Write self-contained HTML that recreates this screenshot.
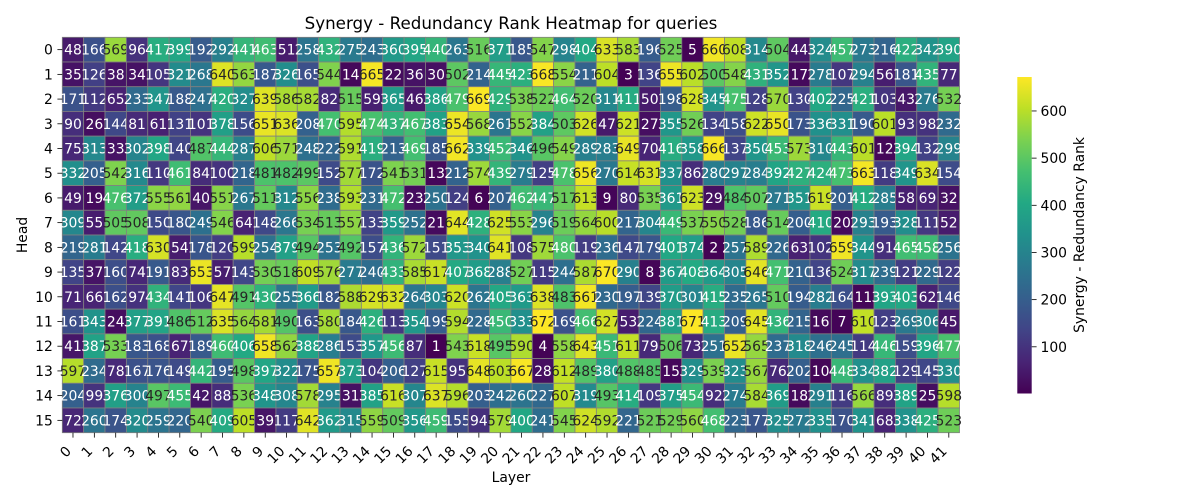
<!DOCTYPE html>
<html><head><meta charset="utf-8">
<style>
html,body{margin:0;padding:0;background:#fff;}
svg{display:block;font-family:"DejaVu Sans","Liberation Sans",sans-serif;}
</style></head>
<body>
<svg id="chart" width="1200" height="500" viewBox="0 0 1200 500" xmlns="http://www.w3.org/2000/svg">
<defs>
<linearGradient id="viridis" x1="0" y1="1" x2="0" y2="0">
<stop offset="0" stop-color="#440154"/><stop offset="0.1" stop-color="#482475"/><stop offset="0.2" stop-color="#414487"/><stop offset="0.3" stop-color="#355f8d"/><stop offset="0.4" stop-color="#2a788e"/><stop offset="0.5" stop-color="#21918c"/><stop offset="0.6" stop-color="#22a884"/><stop offset="0.7" stop-color="#44bf70"/><stop offset="0.8" stop-color="#7ad151"/><stop offset="0.9" stop-color="#bddf26"/><stop offset="1" stop-color="#fde725"/>
</linearGradient>
</defs>
<text x="511" y="29" font-size="16.7" text-anchor="middle" fill="#000">Synergy - Redundancy Rank Heatmap for queries</text>
<g id="cells"></g>
<g id="xticks"></g>
<g id="yticks"></g>
<text x="511" y="482" font-size="13.9" text-anchor="middle">Layer</text>
<text transform="translate(27,235) rotate(-90)" font-size="13.9" text-anchor="middle">Head</text>
<rect x="1017.3" y="77" width="14.4" height="316.5" fill="url(#viridis)"/>
<g id="cbticks"></g>
<text transform="translate(1084,235) rotate(-90)" font-size="13.9" text-anchor="middle">Synergy - Redundancy Rank</text>
</svg>
<script>
const layers = Array.from({length:42},(_,i)=>String(i));
const heads = Array.from({length:16},(_,i)=>String(i));
const row0 = [48,166,569,96,417,399,192,292,441,463,51,258,432,275,243,360,395,440,263,516,371,185,547,298,404,633,583,196,525,5,660,608,314,504,44,324,457,273,216,422,342,390];
const row1 = [35,126,38,34,105,321,268,640,563,187,326,165,544,14,665,22,36,30,502,214,445,423,668,554,211,604,3,136,655,602,500,548,431,352,17,278,107,294,56,181,435,77];
const row2 = [171,112,65,233,347,188,247,420,327,639,586,582,82,515,59,365,46,386,479,669,429,538,522,464,520,311,411,50,198,628,345,475,128,570,130,402,225,421,103,43,276,532];
const row3 = [90,26,144,81,61,131,101,378,156,651,636,208,470,595,474,437,467,383,654,568,261,552,384,503,626,47,621,27,355,526,134,158,622,650,173,336,331,190,601,93,98,232];
const row4 = [75,313,33,302,398,140,487,444,287,606,571,248,222,591,419,213,469,185,662,339,452,346,496,549,289,283,649,70,416,358,666,137,350,453,573,310,443,601,12,394,132,299];
const row5 = [332,205,542,316,110,461,84,100,218,481,482,499,152,577,172,541,531,13,212,574,439,279,125,478,656,270,614,631,337,86,280,297,284,392,427,424,473,663,118,349,634,154];
const row6 = [49,19,476,372,555,561,40,551,267,511,312,556,238,593,231,472,23,250,124,6,207,462,447,517,613,9,80,535,361,623,29,484,507,271,351,619,201,412,285,58,69,32];
const row7 = [309,55,505,508,150,180,249,546,64,148,266,534,513,557,133,359,252,21,644,428,625,553,296,519,564,600,217,304,449,537,550,528,186,514,200,410,20,293,193,328,111,52];
const row8 = [219,281,142,418,630,54,178,120,599,254,379,494,253,492,157,436,572,151,353,340,641,108,575,480,119,236,147,179,401,374,2,257,589,226,63,102,659,344,91,465,458,256];
const row9 = [135,37,160,74,191,83,653,57,143,530,518,609,576,277,240,433,585,617,407,368,288,527,115,244,587,670,290,8,367,408,364,305,646,471,210,136,524,317,239,121,229,122];
const row10 = [71,66,162,97,434,141,106,647,491,430,255,366,182,588,629,632,264,303,620,262,405,363,638,483,661,230,197,139,370,301,415,235,265,510,194,282,164,11,393,403,62,146];
const row11 = [161,343,24,377,391,486,512,635,564,581,490,163,580,184,426,113,354,199,594,228,450,333,672,169,466,627,53,224,381,671,413,209,645,436,215,16,7,610,123,269,306,45];
const row12 = [41,387,533,183,168,67,189,460,406,658,562,388,286,153,357,456,87,1,543,618,495,590,4,558,643,451,611,79,506,73,251,652,565,237,318,246,245,114,446,159,396,477];
const row13 = [597,234,78,167,176,149,442,195,498,397,322,175,657,373,104,206,127,615,95,648,603,667,28,612,489,380,488,485,15,329,539,323,567,76,202,10,448,334,382,129,145,330];
const row14 = [204,99,376,300,497,455,42,88,536,348,308,578,295,31,385,616,307,637,596,203,242,260,227,607,319,493,414,109,375,454,92,274,584,369,18,291,116,566,89,389,25,598];
const row15 = [72,260,174,320,259,220,540,409,605,39,117,642,362,315,559,509,356,459,155,94,579,400,241,545,624,592,221,521,529,560,468,223,177,325,272,335,170,341,68,338,425,523];
const values = [row0,row1,row2,row3,row4,row5,row6,row7,row8,row9,row10,row11,row12,row13,row14,row15];
const cbTicks = [100,200,300,400,500,600];
const vmin = 1, vmax = 672;

const NS = "http://www.w3.org/2000/svg";
const X0 = 62.3, X1 = 959.5, Y0 = 37.3, Y1 = 432.7;
const cw = (X1-X0)/layers.length, ch = (Y1-Y0)/heads.length;
const xPos = i => X0 + i*cw;
const yPos = j => Y0 + j*ch;
const CB_TOP = 77, CB_BOT = 393.5;
const cbY = v => CB_BOT - (v - vmin)/(vmax - vmin)*(CB_BOT-CB_TOP);

const stops = ["#440154","#482475","#414487","#355f8d","#2a788e","#21918c","#22a884","#44bf70","#7ad151","#bddf26","#fde725"].map(h=>[parseInt(h.slice(1,3),16),parseInt(h.slice(3,5),16),parseInt(h.slice(5,7),16)]);
function viridis(t){
  t=Math.max(0,Math.min(1,t)); const p=t*10, i=Math.min(9,Math.floor(p)), f=p-i;
  return stops[i].map((c,k)=>Math.round(c+(stops[i+1][k]-c)*f));
}
function lum(c){
  const l=c.map(v=>{v/=255;return v<=0.03928? v/12.92 : Math.pow((v+0.055)/1.055,2.4);});
  return 0.2126*l[0]+0.7152*l[1]+0.0722*l[2];
}
function mk(tag, attrs, parent){
  const e=document.createElementNS(NS,tag);
  for(const k in attrs) e.setAttribute(k, attrs[k]);
  parent.appendChild(e); return e;
}
const gCells=document.getElementById('cells');
values.forEach((row,j)=>{
  row.forEach((v,i)=>{
    const c=viridis((v-vmin)/(vmax-vmin));
    const r=mk('rect',{x:xPos(i),y:yPos(j),width:cw,height:ch,fill:`rgb(${c[0]},${c[1]},${c[2]})`,stroke:'#808080','stroke-width':0.8},gCells);
    
    
    const t=mk('text',{x:xPos(i)+cw/2,y:yPos(j)+ch/2+5,'font-size':13.9,'text-anchor':'middle',fill:lum(c)>0.408?'#262626':'#ffffff'},gCells);
    
    
    t.textContent=v;
  });
});
const gx=document.getElementById('xticks');
layers.forEach((lab,i)=>{
  const x=xPos(i)+cw/2;
  const l=mk('line',{x1:x,y1:Y1,x2:x,y2:Y1+4.9,stroke:'#000','stroke-width':0.8},gx);
  
  
  const t=mk('text',{transform:`translate(${x-1},${452}) rotate(-45)`,'font-size':13.9,'text-anchor':'end'},gx);
  
  
  t.textContent=lab;
});
const gy=document.getElementById('yticks');
heads.forEach((lab,j)=>{
  const y=yPos(j)+ch/2;
  const l=mk('line',{x1:X0-4.9,y1:y,x2:X0,y2:y,stroke:'#000','stroke-width':0.8},gy);
  
  
  const t=mk('text',{x:X0-9.5,y:y+5,'font-size':13.9,'text-anchor':'end'},gy);
  
  
  t.textContent=lab;
});
const gc=document.getElementById('cbticks');
cbTicks.forEach(v=>{
  const y=cbY(v);
  const l=mk('line',{x1:1031.7,y1:y,x2:1036.6,y2:y,stroke:'#000','stroke-width':0.8},gc);
  
  
  const t=mk('text',{x:1040.5,y:y+5,'font-size':13.9},gc);
  
  
  t.textContent=v;
});
</script>
</body></html>
